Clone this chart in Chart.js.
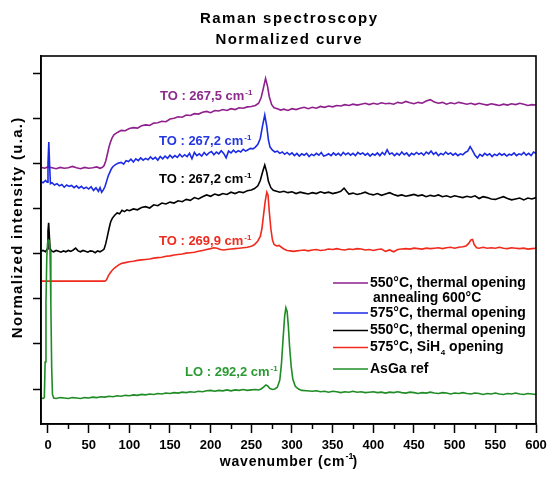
<!DOCTYPE html>
<html><head><meta charset="utf-8">
<script src="https://cdn.jsdelivr.net/npm/chart.js@4.4.1/dist/chart.umd.min.js"></script>
<style>html,body{margin:0;padding:0;background:#fff;}canvas{display:block;}</style>
</head><body>
<canvas id="c" width="548" height="477"></canvas>
<script>
// ---------------- DATA ----------------
const chartTitle = ['Raman spectroscopy', 'Normalized curve'];
const xAxisTitle = 'wavenumber (cm⁻¹)';
const yAxisTitle = 'Normalized intensity (u.a.)';
const xTickValues = [0, 50, 100, 150, 200, 250, 300, 350, 400, 450, 500, 550, 600];
const yTickValues = [0, 1, 2, 3, 4, 5, 6, 7];

const seriesNames = ['550°C, thermal opening\nannealing 600°C', '575°C, thermal opening', '550°C, thermal opening', '575°C, SiH₄ opening', 'AsGa ref'];
const peakLabels = ['TO : 267,5 cm⁻¹', 'TO : 267,2 cm⁻¹', 'TO : 267,2 cm⁻¹', 'TO : 269,9 cm⁻¹', 'LO : 292,2 cm⁻¹'];

// purple : 550°C thermal opening + annealing 600°C
const xPurple = [-9,-4,0,5,10,15,20,25,30,35,40,45,50,55,60,64,67,69,71,73,75,77,79,81,84,87,90,95,100,105,110,115,120,125,130,135,140,145,150,155,160,165,170,175,180,185,190,195,200,205,210,215,220,225,230,235,240,245,250,255,259,262,265,267.5,270,272,275,278,282,286,290,295,300,305,310,315,320,325,330,335,340,345,350,355,360,365,370,375,380,385,390,395,400,405,410,415,420,425,430,435,440,445,450,455,460,465,470,475,480,485,490,495,500,505,510,515,520,525,530,535,540,545,550,555,560,565,570,575,580,585,590,595,600];
const yPurple = [4.91,4.89,4.92,4.90,4.88,4.91,4.89,4.90,4.93,4.90,4.88,4.91,4.89,4.90,4.92,4.89,4.91,4.95,5.05,5.20,5.36,5.48,5.57,5.63,5.67,5.70,5.73,5.72,5.77,5.79,5.78,5.83,5.85,5.84,5.89,5.90,5.93,5.92,5.98,6.00,6.03,6.02,6.07,6.06,6.10,6.09,6.13,6.15,6.12,6.17,6.16,6.19,6.17,6.21,6.19,6.23,6.22,6.25,6.26,6.28,6.33,6.45,6.68,6.88,6.70,6.48,6.30,6.23,6.21,6.18,6.20,6.17,6.21,6.19,6.22,6.24,6.21,6.24,6.22,6.26,6.24,6.27,6.25,6.28,6.27,6.30,6.28,6.31,6.29,6.31,6.33,6.30,6.33,6.31,6.34,6.32,6.33,6.31,6.35,6.33,6.37,6.34,6.32,6.35,6.33,6.38,6.41,6.36,6.33,6.35,6.31,6.34,6.32,6.35,6.33,6.31,6.33,6.30,6.33,6.31,6.29,6.32,6.30,6.28,6.31,6.29,6.32,6.30,6.33,6.31,6.28,6.30,6.29];

// blue : 575°C thermal opening
const xBlue = [-9,-6,-3,-1,0,1,2,3,5,8,11,14,17,20,23,26,29,32,35,38,41,44,47,50,53,56,59,62,64,66,68,70,72,74,76,78,80,83,86,90,93,96,99,102,105,108,111,114,117,120,123,126,129,132,135,138,141,144,147,150,153,156,159,162,165,168,171,174,177,180,183,186,189,192,195,198,201,204,207,210,213,216,219,222,225,228,231,234,237,240,243,246,249,252,255,258,261,264,266.5,269,271,273,276,279,282,285,288,291,294,297,300,303,306,309,312,315,318,321,324,327,330,333,336,339,342,345,348,351,354,357,360,363,366,369,372,375,378,381,384,387,390,393,396,399,402,405,408,411,414,417,420,423,426,429,432,435,438,441,444,447,450,453,456,459,462,465,468,471,474,477,480,483,486,489,492,495,498,501,504,507,510,513,516,519,522,525,528,531,534,537,540,543,546,549,552,555,558,561,564,567,570,573,576,579,582,585,588,591,594,597,600];
const yBlue = [4.60,4.57,4.62,4.58,5.00,5.47,4.95,4.55,4.57,4.52,4.55,4.50,4.53,4.47,4.52,4.49,4.51,4.46,4.50,4.45,4.49,4.44,4.47,4.43,4.48,4.40,4.46,4.38,4.46,4.36,4.41,4.48,4.60,4.72,4.80,4.88,4.93,4.97,5.00,5.02,4.98,5.06,5.04,5.09,5.03,5.10,5.06,5.12,5.07,5.11,5.08,5.14,5.09,5.13,5.07,5.15,5.10,5.16,5.11,5.18,5.12,5.17,5.13,5.20,5.14,5.19,5.15,5.22,5.10,5.24,5.17,5.21,5.16,5.24,5.18,5.23,5.26,5.19,5.25,5.21,5.28,5.22,5.12,5.27,5.23,5.29,5.24,5.28,5.25,5.31,5.27,5.30,5.33,5.32,5.36,5.42,5.55,5.85,6.07,5.82,5.52,5.36,5.29,5.25,5.27,5.22,5.25,5.20,5.24,5.19,5.23,5.17,5.22,5.16,5.21,5.18,5.22,5.15,5.20,5.17,5.22,5.18,5.24,5.16,5.18,5.21,5.17,5.23,5.18,5.22,5.17,5.24,5.19,5.23,5.18,5.22,5.17,5.24,5.20,5.23,5.18,5.22,5.16,5.21,5.18,5.23,5.17,5.24,5.19,5.30,5.20,5.23,5.17,5.22,5.18,5.25,5.19,5.23,5.16,5.22,5.19,5.24,5.20,5.23,5.18,5.25,5.21,5.27,5.20,5.24,5.17,5.22,5.19,5.25,5.20,5.23,5.18,5.22,5.17,5.21,5.19,5.24,5.27,5.37,5.28,5.18,5.12,5.20,5.16,5.22,5.18,5.21,5.15,5.20,5.17,5.22,5.18,5.21,5.16,5.20,5.18,5.23,5.17,5.21,5.19,5.24,5.18,5.22,5.17,5.25,5.22];

// black : 550°C thermal opening
const xBlack = [-9,-6,-3,-1,0,0.8,1.5,2.5,4,7,10,13,16,19,22,25,28,31,34,37,40,43,46,49,52,55,58,61,64,67,69,71,73,75,77,79,82,85,88,91,94,97,100,105,110,115,120,125,130,135,140,145,150,155,160,165,170,175,180,185,190,195,200,205,210,215,220,225,230,235,240,245,250,254,258,261,264,266.5,269,271,274,277,281,285,290,295,300,305,310,315,320,325,330,335,340,345,350,355,360,364,367,370,375,380,385,390,395,400,405,410,415,420,425,430,435,440,445,450,455,460,465,470,475,480,485,490,495,500,505,510,515,520,525,530,535,540,545,550,555,560,565,570,575,580,585,590,595,600];
const yBlack = [3.05,3.07,3.04,3.10,3.50,3.68,3.45,3.12,3.06,3.04,3.07,3.05,3.03,3.06,3.04,3.07,3.05,3.08,3.12,3.06,3.04,3.07,3.05,3.03,3.06,3.05,3.02,3.06,3.04,3.07,3.10,3.22,3.38,3.55,3.70,3.78,3.85,3.90,3.88,3.96,3.93,3.97,3.95,3.99,3.97,4.02,4.04,4.01,4.08,4.06,4.12,4.10,4.14,4.12,4.17,4.15,4.20,4.18,4.24,4.21,4.26,4.30,4.27,4.32,4.29,4.33,4.31,4.36,4.33,4.37,4.35,4.39,4.41,4.44,4.50,4.62,4.82,4.96,4.80,4.60,4.46,4.40,4.38,4.36,4.38,4.35,4.37,4.33,4.36,4.34,4.32,4.35,4.33,4.37,4.34,4.36,4.33,4.35,4.38,4.45,4.38,4.32,4.34,4.31,4.33,4.36,4.32,4.30,4.33,4.29,4.32,4.35,4.31,4.28,4.30,4.27,4.29,4.31,4.28,4.30,4.26,4.29,4.27,4.30,4.26,4.28,4.25,4.28,4.26,4.24,4.27,4.25,4.28,4.22,4.26,4.24,4.21,4.20,4.23,4.26,4.22,4.19,4.21,4.23,4.19,4.23,4.21,4.24,4.22];

// red : 575°C SiH4 opening
const xRed = [-9,0,10,20,30,40,50,60,70,72,74,76,78,81,84,87,90,95,100,105,110,115,120,125,130,135,140,145,150,155,160,165,170,175,180,185,190,195,200,204,208,212,216,220,225,230,235,240,245,250,254,258,261,263,265,267,269,270.5,272,274,276,278,281,284,287,290,294,298,302,306,310,315,320,325,330,335,340,345,350,355,360,365,370,375,380,385,390,395,400,405,410,415,420,425,430,435,440,445,450,455,460,465,470,475,480,485,490,495,500,505,510,514,517,520,522,524,527,530,535,540,545,550,555,560,565,570,575,580,585,590,595,600];
const yRed = [2.39,2.39,2.39,2.39,2.39,2.39,2.39,2.39,2.39,2.42,2.50,2.56,2.61,2.67,2.71,2.75,2.78,2.80,2.82,2.83,2.85,2.86,2.87,2.88,2.90,2.91,2.92,2.94,2.95,2.97,2.98,2.99,3.01,3.02,3.03,3.05,3.07,3.09,3.11,3.13,3.12,3.09,3.08,3.09,3.10,3.11,3.12,3.13,3.14,3.16,3.20,3.28,3.38,3.55,3.85,4.15,4.36,4.30,3.95,3.55,3.30,3.20,3.17,3.18,3.14,3.10,3.07,3.06,3.05,3.06,3.07,3.08,3.06,3.08,3.09,3.07,3.08,3.10,3.09,3.11,3.09,3.08,3.10,3.09,3.11,3.10,3.08,3.09,3.07,3.09,3.10,3.05,3.08,3.04,3.09,3.10,3.11,3.10,3.12,3.11,3.10,3.12,3.11,3.12,3.13,3.11,3.13,3.14,3.12,3.14,3.15,3.17,3.22,3.30,3.31,3.20,3.13,3.12,3.14,3.12,3.13,3.12,3.14,3.12,3.11,3.13,3.12,3.11,3.12,3.10,3.11,3.12];

// green : AsGa ref
const xGreen = [-9,-6,-4.5,-3.5,-2.5,-1.5,-0.5,0.5,1.5,2.5,3.5,4.5,5.5,7,10,15,20,25,30,35,40,45,50,55,60,65,70,75,80,85,90,95,100,105,110,115,120,125,130,135,140,145,150,155,160,165,170,175,180,185,190,195,200,205,210,215,220,225,230,235,240,245,250,255,259,262,265,268,270,273,276,279,282,285,287,289,291,292.5,294,295.5,297,299,301,304,308,312,318,325,330,335,340,345,350,355,360,365,370,375,380,385,390,395,400,405,410,415,420,425,430,435,440,445,450,455,460,465,470,475,480,485,490,495,500,505,510,515,520,525,530,535,540,545,550,555,560,565,570,575,580,585,590,595,600];
const yGreen = [-0.20,-0.21,-0.19,0.60,1.90,2.90,3.25,3.30,3.28,3.05,1.90,0.50,-0.12,-0.20,-0.21,-0.19,-0.20,-0.21,-0.19,-0.20,-0.21,-0.19,-0.20,-0.18,-0.19,-0.17,-0.18,-0.16,-0.17,-0.15,-0.16,-0.14,-0.15,-0.13,-0.14,-0.12,-0.13,-0.11,-0.12,-0.10,-0.11,-0.09,-0.10,-0.08,-0.09,-0.07,-0.08,-0.06,-0.07,-0.05,-0.06,-0.04,-0.03,-0.05,-0.03,-0.04,-0.02,-0.04,-0.02,-0.03,-0.01,-0.03,-0.02,-0.01,-0.02,0.00,0.04,0.09,0.07,0.01,-0.01,0.00,0.04,0.20,0.55,1.10,1.62,1.80,1.72,1.40,0.95,0.50,0.22,0.06,0.00,-0.03,-0.04,-0.05,-0.04,-0.06,-0.05,-0.07,-0.05,-0.06,-0.08,-0.06,-0.07,-0.05,-0.07,-0.06,-0.08,-0.07,-0.06,-0.08,-0.07,-0.09,-0.07,-0.08,-0.06,-0.08,-0.09,-0.07,-0.08,-0.10,-0.08,-0.09,-0.07,-0.09,-0.10,-0.08,-0.09,-0.11,-0.09,-0.10,-0.08,-0.10,-0.11,-0.09,-0.10,-0.12,-0.10,-0.11,-0.09,-0.11,-0.12,-0.10,-0.11,-0.09,-0.11,-0.12,-0.10,-0.11,-0.12];

// ---------------- STYLE ----------------
const COL = { purple:'#8E1F8C', blue:'#1B2BE4', black:'#000000', red:'#F02A1C', green:'#1F8C25' };
const TXT = { purple:'#8E2A8C', blue:'#2436E0', black:'#000000', red:'#EE2C20', green:'#2A9A32' };
const FAM = '"Liberation Sans", Arial, Helvetica, sans-serif';
const bold = s => `bold ${s}px ${FAM}`;

function pts(xs, ys){ return xs.map((x, i) => ({ x: x, y: ys[i] })); }

// text with letter spacing, returns width; align: 'left' | 'center'
function spacedText(ctx, text, x, y, spacing, align){
  ctx.letterSpacing = '0px';
  const chars = [...text];
  const w0 = ctx.measureText(text).width;
  const w = w0 + spacing * (chars.length - 1);
  let sx = align === 'center' ? x - w / 2 : x;
  ctx.textAlign = 'left';
  if (spacing) {
    for (const ch of chars) { ctx.fillText(ch, sx, y); sx += ctx.measureText(ch).width + spacing; }
  } else ctx.fillText(text, sx, y);
  return w;
}

// draw "main⁻¹" with superscript
function supText(ctx, text, x, y, size, color){
  const parts = text.split('⁻¹');
  ctx.fillStyle = color;
  ctx.font = bold(size);
  ctx.textAlign = 'left'; ctx.textBaseline = 'alphabetic';
  ctx.fillText(parts[0], x, y);
  const w = ctx.measureText(parts[0]).width;
  ctx.font = bold(Math.round(size * 0.62));
  ctx.fillText('-1', x + w + 1, y - size * 0.4);
  ctx.font = bold(size);
  return w;
}

const decor = {
  id: 'decor',
  afterDraw(chart){
    const { ctx, chartArea: a, scales: { x, y } } = chart;
    ctx.save();
    // frame
    ctx.strokeStyle = '#000'; ctx.lineWidth = 1.6;
    ctx.strokeRect(a.left, a.top, a.right - a.left, a.bottom - a.top);
    // minor x ticks
    ctx.lineWidth = 1.5;
    for (let i = 0; i < xTickValues.length - 1; i++) {
      const px = Math.round(x.getPixelForValue((xTickValues[i] + xTickValues[i + 1]) / 2)) + 0.5;
      ctx.beginPath(); ctx.moveTo(px, a.bottom); ctx.lineTo(px, a.bottom + 5); ctx.stroke();
    }
    // title
    ctx.fillStyle = '#000'; ctx.textBaseline = 'alphabetic';
    ctx.font = bold(15);
    const cx = (a.left + a.right) / 2;
    spacedText(ctx, chartTitle[0], cx, 23, 1.5, 'center');
    spacedText(ctx, chartTitle[1], cx, 44, 1.4, 'center');
    // x axis title
    ctx.font = bold(14);
    const xt = xAxisTitle.split('⁻¹');
    const wMain = ctx.measureText(xt[0]).width + 0.8 * (xt[0].length - 1);
    const wClose = ctx.measureText(xt[1]).width;
    const total = wMain + 8 + wClose;
    let sx = cx - total / 2;
    spacedText(ctx, xt[0], sx, 466, 0.8, 'left');
    ctx.font = bold(9);
    ctx.fillText('-1', sx + wMain + 1, 459);
    ctx.font = bold(14);
    ctx.fillText(xt[1], sx + wMain + 8, 466);
    // y axis title
    ctx.save();
    ctx.translate(22, (a.top + a.bottom) / 2 - 12);
    ctx.rotate(-Math.PI / 2);
    ctx.font = bold(15);
    spacedText(ctx, yAxisTitle, 0, 0, 1.3, 'center');
    ctx.restore();
    // peak annotations (anchored in data coordinates)
    const notes = [
      { x: 137.7, y: 6.40, c: TXT.purple },
      { x: 136.5, y: 5.405, c: TXT.blue },
      { x: 136.5, y: 4.57, c: TXT.black },
      { x: 136.5, y: 3.19, c: TXT.red },
      { x: 168.5, y: 0.288, c: TXT.green }
    ];
    notes.forEach((n, i) => supText(ctx, peakLabels[i], x.getPixelForValue(n.x), y.getPixelForValue(n.y), 13, n.c));
    // legend
    const legCols = [COL.purple, COL.blue, COL.black, COL.red, COL.green];
    const legY = [283, 313, 330.5, 347.5, 369];
    ctx.font = bold(14); ctx.textBaseline = 'middle';
    seriesNames.forEach((name, i) => {
      const ly = legY[i];
      ctx.strokeStyle = legCols[i]; ctx.lineWidth = 1.6;
      ctx.beginPath(); ctx.moveTo(333, ly); ctx.lineTo(368, ly); ctx.stroke();
      ctx.fillStyle = '#000';
      const lines = name.split('\n');
      lines.forEach((ln, j) => {
        const tx = j === 0 ? 370 : 373;
        const ty = ly + j * 15;
        if (ln.includes('₄')) {
          const p = ln.split('₄');
          ctx.font = bold(14);
          ctx.fillText(p[0], tx, ty);
          const w = ctx.measureText(p[0]).width;
          ctx.font = bold(8);
          ctx.fillText('4', tx + w + 0.5, ty + 5);
          ctx.font = bold(14);
          ctx.fillText(p[1], tx + w + 5, ty);
        } else {
          ctx.font = bold(14);
          ctx.fillText(ln, tx, ty);
        }
      });
    });
    ctx.restore();
  }
};

const base = { showLine: true, pointRadius: 0, borderWidth: 1.6, fill: false, tension: 0 };
const datasets = [
  Object.assign({ label: seriesNames[4], data: pts(xGreen, yGreen), borderColor: COL.green }, base),
  Object.assign({ label: seriesNames[3], data: pts(xRed, yRed), borderColor: COL.red }, base),
  Object.assign({ label: seriesNames[2], data: pts(xBlack, yBlack), borderColor: COL.black }, base),
  Object.assign({ label: seriesNames[1], data: pts(xBlue, yBlue), borderColor: COL.blue }, base),
  Object.assign({ label: seriesNames[0], data: pts(xPurple, yPurple), borderColor: COL.purple }, base)
];

new Chart(document.getElementById('c'), {
  type: 'scatter',
  data: { datasets },
  options: {
    responsive: false, animation: false, devicePixelRatio: 1,
    layout: { padding: { left: 0, right: 12, top: 56, bottom: 0 } },
    plugins: { legend: { display: false }, tooltip: { enabled: false }, title: { display: false } },
    scales: {
      x: {
        type: 'linear', min: -8.6, max: 600,
        afterBuildTicks: s => { s.ticks = xTickValues.map(v => ({ value: v })); },
        afterFit: s => { s.height = 53; s.paddingLeft = 0; s.paddingRight = 0; },
        ticks: { font: { family: FAM, size: 13, weight: 'bold' }, color: '#000', padding: 5, maxRotation: 0, autoSkip: false },
        grid: { drawOnChartArea: false, drawTicks: true, tickLength: 9, tickColor: '#000', tickWidth: 1.5 },
        border: { display: true, color: '#000', width: 1.6 }
      },
      y: {
        type: 'linear', min: -0.775, max: 7.377,
        afterBuildTicks: s => { s.ticks = yTickValues.map(v => ({ value: v })); },
        afterFit: s => { s.width = 41; s.paddingTop = 0; s.paddingBottom = 0; },
        ticks: { display: false },
        grid: { drawOnChartArea: false, drawTicks: true, tickLength: 8, tickColor: '#000', tickWidth: 1.5 },
        border: { display: true, color: '#000', width: 1.6 }
      }
    }
  },
  plugins: [decor]
});
</script>
</body></html>
